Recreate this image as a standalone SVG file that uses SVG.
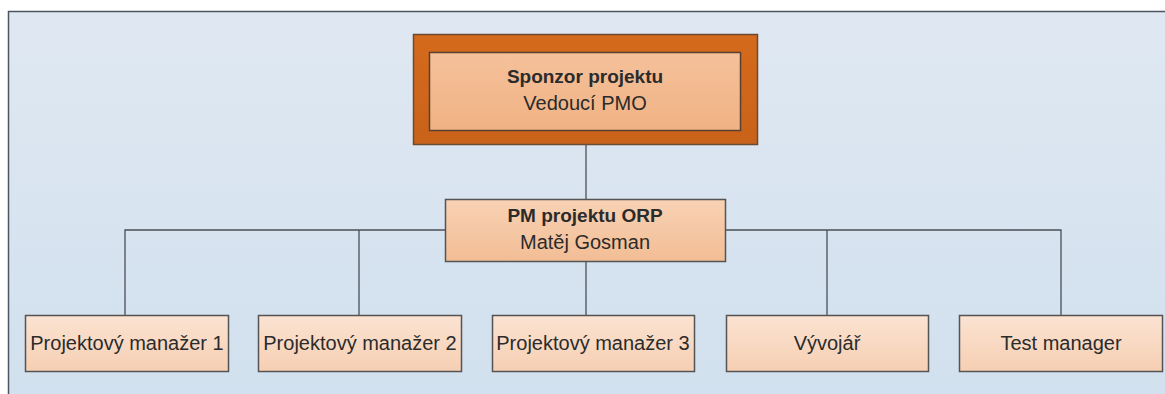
<svg xmlns="http://www.w3.org/2000/svg" width="1165" height="394" viewBox="0 0 1165 394">
  <defs>
    <linearGradient id="bg" x1="0" y1="0" x2="0" y2="1">
      <stop offset="0" stop-color="#dfe8f2"/>
      <stop offset="1" stop-color="#d1e0ee"/>
    </linearGradient>
    <linearGradient id="boxFill" x1="0" y1="0" x2="0" y2="1">
      <stop offset="0" stop-color="#fbe3d2"/>
      <stop offset="1" stop-color="#f6cfb3"/>
    </linearGradient>
    <linearGradient id="pmFill" x1="0" y1="0" x2="0" y2="1">
      <stop offset="0" stop-color="#f8d2b4"/>
      <stop offset="1" stop-color="#f2bd95"/>
    </linearGradient>
    <linearGradient id="sponsorInner" x1="0" y1="0" x2="0" y2="1">
      <stop offset="0" stop-color="#f5c19b"/>
      <stop offset="1" stop-color="#f0b283"/>
    </linearGradient>
    <linearGradient id="sponsorOuter" x1="0" y1="0" x2="0" y2="1">
      <stop offset="0" stop-color="#d46a1c"/>
      <stop offset="1" stop-color="#c9621a"/>
    </linearGradient>
  </defs>
  <style>
    .box { fill: url(#boxFill); stroke: #545454; stroke-width: 1.5; }
    .lbl { font-family: "Liberation Sans", Arial, sans-serif; font-size: 20px; fill: #2b2b2b; text-anchor: middle; }
    .bold { font-weight: bold; font-size: 19px; }
    .conn { fill: none; stroke: #4a4f55; stroke-width: 1.3; }
  </style>

  <!-- canvas -->
  <rect x="0" y="0" width="1165" height="394" fill="#ffffff"/>
  <rect x="8.5" y="11.5" width="1170" height="400" fill="url(#bg)" stroke="#4d5560" stroke-width="1.5"/>

  <!-- connectors -->
  <g id="connectors" class="conn">
    <line x1="586" y1="145" x2="586" y2="199"/>
    <line x1="586" y1="262" x2="586" y2="316"/>
    <polyline points="125,316 125,230 445,230"/>
    <line x1="359" y1="230" x2="359" y2="316"/>
    <polyline points="725,230 1061,230 1061,316"/>
    <line x1="827" y1="230" x2="827" y2="316"/>
  </g>

  <!-- sponsor -->
  <g id="sponsor">
    <rect x="413.5" y="34.5" width="344" height="110" fill="url(#sponsorOuter)" stroke="#6b4a33" stroke-width="1.5"/>
    <rect x="429.5" y="52.5" width="311" height="78" fill="url(#sponsorInner)" stroke="#5a4030" stroke-width="1.5"/>
    <text class="lbl bold" x="585" y="83">Sponzor projektu</text>
    <text class="lbl" x="585" y="110">Vedoucí PMO</text>
  </g>

  <!-- project manager -->
  <g id="pm">
    <rect x="445.5" y="199.5" width="280" height="62" fill="url(#pmFill)" stroke="#545454" stroke-width="1.5"/>
    <text class="lbl bold" x="585" y="222">PM projektu ORP</text>
    <text class="lbl" x="585" y="249">Matěj Gosman</text>
  </g>

  <!-- team -->
  <g id="pm1">
    <rect class="box" x="25.5" y="315.5" width="203" height="56"/>
    <text class="lbl" x="127" y="350">Projektový manažer 1</text>
  </g>
  <g id="pm2">
    <rect class="box" x="258.5" y="315.5" width="203" height="56"/>
    <text class="lbl" x="360" y="350">Projektový manažer 2</text>
  </g>
  <g id="pm3">
    <rect class="box" x="492.5" y="315.5" width="202" height="56"/>
    <text class="lbl" x="593" y="350">Projektový manažer 3</text>
  </g>
  <g id="dev">
    <rect class="box" x="726.5" y="315.5" width="202" height="56"/>
    <text class="lbl" x="827" y="350">Vývojář</text>
  </g>
  <g id="test">
    <rect class="box" x="959.5" y="315.5" width="203" height="56"/>
    <text class="lbl" x="1061" y="350">Test manager</text>
  </g>
</svg>
